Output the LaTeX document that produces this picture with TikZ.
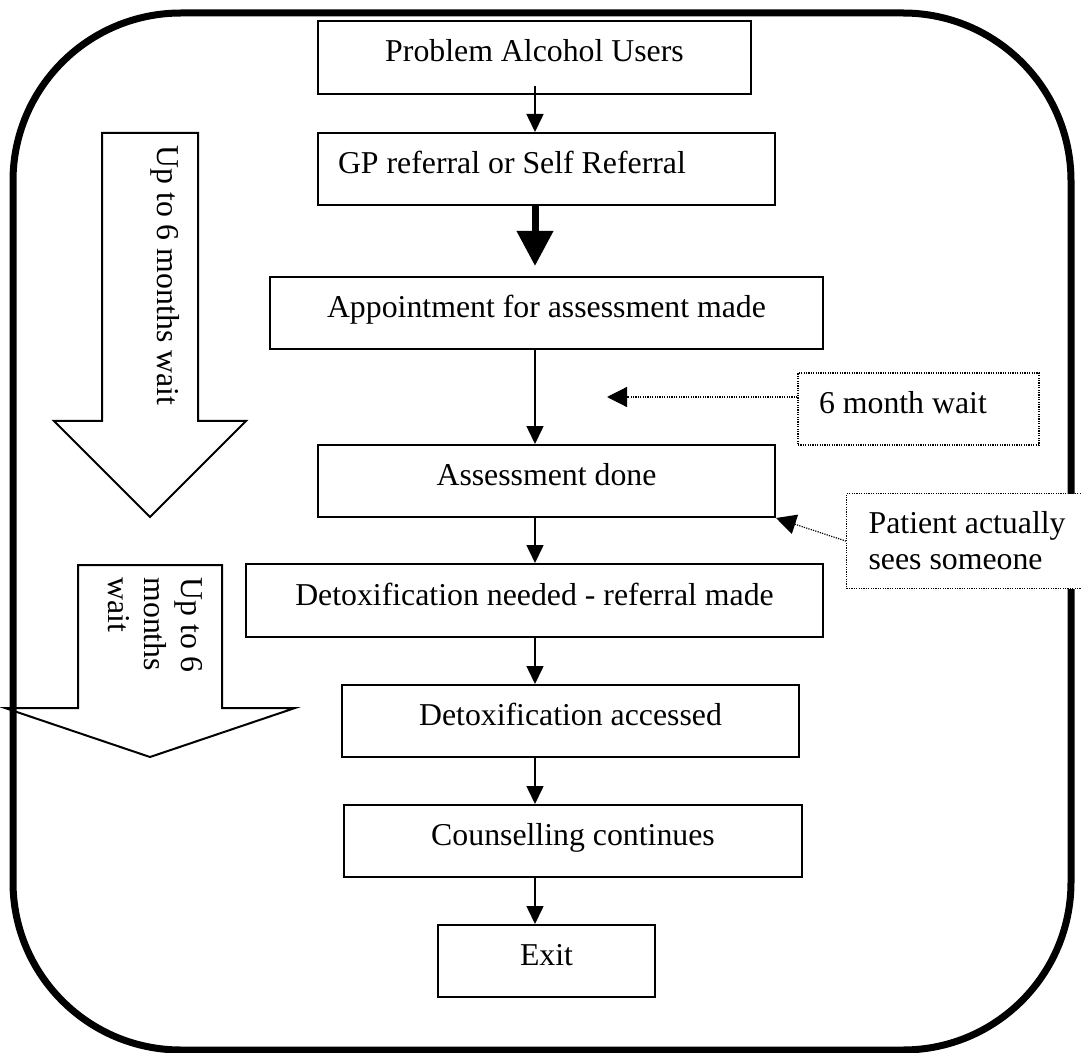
\documentclass[tikz,border=0pt]{standalone}
\usepackage{fontspec}
\setmainfont{Liberation Serif}
\usetikzlibrary{arrows.meta,calc}
\begin{document}
\begin{tikzpicture}[x=0.5pt,y=-0.5pt,
  every node/.style={font=\fontsize{15.9pt}{18.3pt}\selectfont},
  box/.style={draw, line width=1pt, fill=white, inner sep=0pt, text height=11pt, text depth=6.5pt, minimum height=36pt},
  flow/.style={line width=0.8pt, -{Triangle[length=9pt,width=8.5pt]}},
  bigflow/.style={line width=3.5pt, -{Triangle[length=17.5pt,width=17.5pt]}},
  note/.style={draw, line width=0.6pt, dash pattern=on 0.6pt off 0.6pt, fill=white, align=flush left},
  noteflow/.style={line width=0.6pt, dash pattern=on 0.6pt off 0.6pt, -{Triangle[length=10pt,width=10pt]}},
  blockarrow/.style={draw, line width=1pt, fill=white, line join=miter},
  frame/.style={draw, line width=3.5pt, rounded corners=84pt}
]
\useasboundingbox (0,0) rectangle (1081,1053);

% big block arrows at the left
\path[blockarrow] (102,133) -- (198,133) -- (198,421) -- (246,421) -- (150,517) -- (54,421) -- (102,421) -- cycle;
\node[rotate=-90, anchor=base west, inner sep=0pt] (t1) at (157,145) {Up to 6 months wait};
\path[blockarrow] (78,565) -- (222,565) -- (222,708) -- (295,708) -- (150,757) -- (5,708) -- (78,708) -- cycle;
\node[rotate=-90, anchor=north west, inner sep=0pt, align=flush left] (t2) at (203,577) {Up to 6\\months\\wait};

% outer frame
\path[frame] (13,13) rectangle (1071,1050);

% flow boxes
\node[box, minimum width=216.5pt, minimum height=36.5pt] (b1) at (534.5,57.5) {Problem Alcohol Users};
\node[box, inner xsep=10pt, text width=208.5pt, align=flush left] (b2) at (546.5,169) {GP referral or Self Referral};
\node[box, minimum width=276.5pt] (b3) at (546.5,313) {Appointment for assessment made};
\node[box, minimum width=228.5pt] (b4) at (546.5,481) {Assessment done};
\node[box, minimum width=288.5pt, minimum height=36.5pt] (b5) at (534.5,600.5) {Detoxification needed - referral made};
\node[box, minimum width=228.5pt] (b6) at (570.5,721) {Detoxification accessed};
\node[box, minimum width=229pt] (b7) at (573,841) {Counselling continues};
\node[box, minimum width=108.5pt] (b8) at (546.5,961) {Exit};

% connectors
\coordinate (ax) at (535,0);
\draw[flow] ([yshift=4.5pt]b1.south -| ax) -- (b2.north -| ax);
\draw[bigflow] (b2.south -| ax) -- ([yshift=5pt]b3.north -| ax);
\draw[flow] (b3.south -| ax) -- (b4.north -| ax);
\draw[flow] (b4.south -| ax) -- (b5.north -| ax);
\draw[flow] (b5.south -| ax) -- (b6.north -| ax);
\draw[flow] (b6.south -| ax) -- (b7.north -| ax);
\draw[flow] (b7.south -| ax) -- (b8.north -| ax);

% notes
\node[note, inner xsep=10.5pt, inner ysep=0pt, text width=99.5pt, minimum height=36pt, text height=11pt, text depth=6.5pt] (w6) at (918.5,409) {6 month wait};
\coordinate (w6tip) at (607,397);
\draw[noteflow] ([yshift=6pt]w6.west) -- (w6tip);

\node[note, anchor=north west, inner xsep=11pt, inner ysep=0pt, text width=110pt, minimum height=47.5pt, font=\fontsize{15.9pt}{18pt}\selectfont] (pat) at (846,493) {Patient actually\\sees someone};
\draw[noteflow] (pat.west) -- (b4.south east);
\end{tikzpicture}
\end{document}
